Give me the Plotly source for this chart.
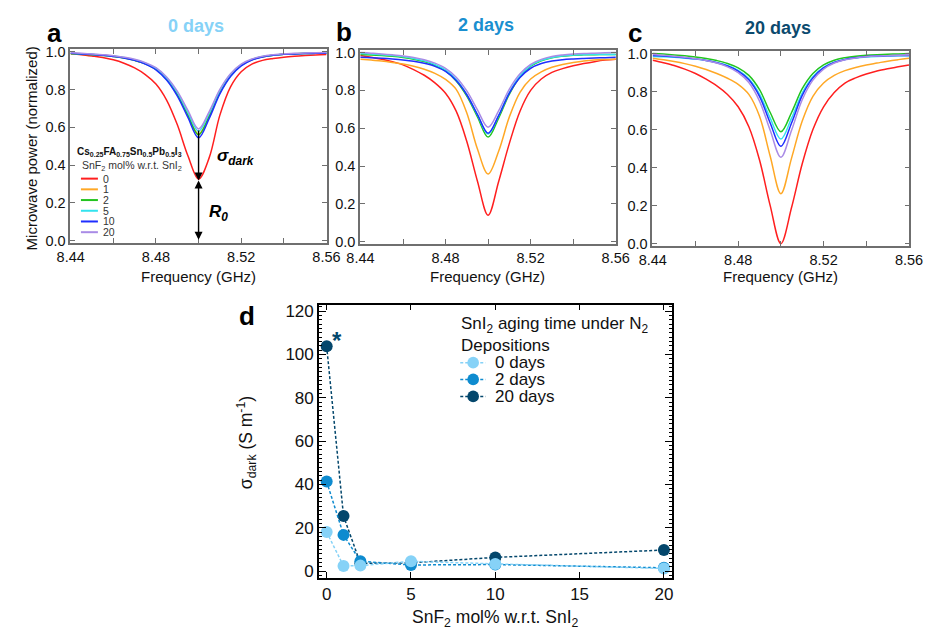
import plotly.graph_objects as go

# ---------------- data ----------------
FREQ = [8.44, 8.445, 8.45, 8.455, 8.46, 8.465, 8.47, 8.475, 8.48, 8.485, 8.49, 8.495, 8.50,
        8.505, 8.51, 8.515, 8.52, 8.525, 8.53, 8.535, 8.54, 8.545, 8.55, 8.555, 8.56]

SNF2_LEVELS = ["0", "1", "2", "5", "10", "20"]
LINE_COLORS = ["#ff1f1f", "#ffa826", "#22c41f", "#33e3ee", "#1f2eff", "#a98be6"]

# panel a: 0 days
A_0 = [0.99, 0.985, 0.978, 0.97, 0.958, 0.94, 0.915, 0.88, 0.83, 0.745, 0.615, 0.45, 0.327,
       0.44, 0.665, 0.815, 0.895, 0.935, 0.955, 0.965, 0.972, 0.977, 0.981, 0.984, 0.986]
A_1 = [0.993, 0.99, 0.986, 0.982, 0.977, 0.969, 0.956, 0.938, 0.909, 0.857, 0.777, 0.668, 0.565,
       0.663, 0.788, 0.876, 0.93, 0.959, 0.974, 0.982, 0.988, 0.99, 0.992, 0.993, 0.994]
A_2 = [0.99, 0.988, 0.985, 0.981, 0.976, 0.968, 0.955, 0.937, 0.908, 0.855, 0.775, 0.665, 0.56,
       0.66, 0.785, 0.874, 0.929, 0.958, 0.974, 0.982, 0.987, 0.99, 0.991, 0.992, 0.993]
A_5 = [0.993, 0.99, 0.987, 0.983, 0.978, 0.97, 0.958, 0.94, 0.912, 0.862, 0.785, 0.68, 0.58,
       0.675, 0.795, 0.88, 0.932, 0.96, 0.975, 0.983, 0.988, 0.99, 0.992, 0.993, 0.994]
A_10 = [0.992, 0.989, 0.986, 0.982, 0.976, 0.968, 0.955, 0.935, 0.905, 0.851, 0.767, 0.653, 0.545,
        0.648, 0.778, 0.87, 0.926, 0.957, 0.973, 0.982, 0.987, 0.989, 0.991, 0.992, 0.993]
A_20 = [0.995, 0.992, 0.989, 0.985, 0.98, 0.972, 0.961, 0.943, 0.916, 0.867, 0.792, 0.69, 0.592,
        0.684, 0.801, 0.884, 0.935, 0.962, 0.977, 0.985, 0.99, 0.992, 0.994, 0.995, 0.996]

# panel b: 2 days
B_0 = [0.985, 0.975, 0.965, 0.952, 0.935, 0.91, 0.88, 0.84, 0.785, 0.69, 0.53, 0.32, 0.14,
       0.32, 0.52, 0.69, 0.8, 0.86, 0.895, 0.915, 0.93, 0.942, 0.952, 0.96, 0.965]
B_1 = [0.965, 0.96, 0.955, 0.948, 0.94, 0.928, 0.912, 0.89, 0.858, 0.805, 0.68, 0.49, 0.358,
       0.48, 0.66, 0.79, 0.86, 0.898, 0.922, 0.937, 0.947, 0.955, 0.96, 0.963, 0.965]
B_2 = [0.99, 0.987, 0.984, 0.98, 0.974, 0.965, 0.952, 0.933, 0.903, 0.85, 0.77, 0.66, 0.553,
       0.655, 0.78, 0.872, 0.928, 0.957, 0.973, 0.981, 0.986, 0.988, 0.989, 0.99, 0.99]
B_5 = [0.995, 0.992, 0.988, 0.984, 0.978, 0.969, 0.956, 0.937, 0.908, 0.857, 0.778, 0.671, 0.57,
       0.667, 0.789, 0.877, 0.931, 0.959, 0.974, 0.982, 0.987, 0.989, 0.99, 0.99, 0.99]
B_10 = [0.975, 0.973, 0.97, 0.966, 0.961, 0.954, 0.943, 0.927, 0.9, 0.852, 0.777, 0.672, 0.574,
        0.668, 0.786, 0.868, 0.917, 0.942, 0.955, 0.962, 0.966, 0.969, 0.971, 0.973, 0.975]
B_20 = [1.0, 0.997, 0.993, 0.988, 0.982, 0.974, 0.962, 0.944, 0.917, 0.87, 0.797, 0.697, 0.605,
        0.693, 0.807, 0.888, 0.938, 0.964, 0.979, 0.987, 0.992, 0.995, 0.997, 0.999, 1.0]

# panel c: 20 days
C_0 = [0.965, 0.952, 0.937, 0.918, 0.895, 0.865, 0.83, 0.785, 0.72, 0.615, 0.44, 0.2, 0.0,
       0.19, 0.42, 0.6, 0.72, 0.795, 0.845, 0.872, 0.892, 0.908, 0.92, 0.93, 0.94]
C_1 = [0.975, 0.967, 0.958, 0.947, 0.933, 0.916, 0.895, 0.87, 0.838, 0.785, 0.67, 0.46, 0.263,
       0.45, 0.645, 0.775, 0.845, 0.885, 0.91, 0.927, 0.94, 0.95, 0.96, 0.968, 0.975]
C_2 = [1.0, 0.997, 0.993, 0.988, 0.982, 0.974, 0.963, 0.948, 0.925, 0.885, 0.81, 0.69, 0.589,
       0.69, 0.815, 0.895, 0.94, 0.965, 0.978, 0.986, 0.991, 0.994, 0.996, 0.998, 1.0]
C_5 = [0.985, 0.983, 0.98, 0.976, 0.971, 0.964, 0.953, 0.937, 0.912, 0.868, 0.787, 0.66, 0.55,
       0.66, 0.792, 0.878, 0.927, 0.954, 0.969, 0.977, 0.982, 0.985, 0.987, 0.988, 0.988]
C_10 = [0.99, 0.987, 0.983, 0.978, 0.972, 0.964, 0.952, 0.935, 0.908, 0.862, 0.775, 0.635, 0.512,
        0.635, 0.78, 0.872, 0.925, 0.953, 0.969, 0.978, 0.984, 0.987, 0.989, 0.99, 0.99]
C_20 = [0.995, 0.991, 0.986, 0.98, 0.973, 0.963, 0.95, 0.93, 0.9, 0.848, 0.75, 0.596, 0.455,
        0.596, 0.757, 0.86, 0.918, 0.95, 0.967, 0.977, 0.983, 0.987, 0.989, 0.991, 0.992]

SPECTRA_0D = [A_0, A_1, A_2, A_5, A_10, A_20]
SPECTRA_2D = [B_0, B_1, B_2, B_5, B_10, B_20]
SPECTRA_20D = [C_0, C_1, C_2, C_5, C_10, C_20]

# panel d
SNF2_MOL = [0, 1, 2, 5, 10, 20]
SIGMA_0D = [18.0, 2.3, 2.5, 4.5, 3.3, 1.2]
SIGMA_2D = [41.3, 16.7, 4.5, 2.8, 3.0, 1.5]
SIGMA_20D = [103.8, 25.4, 3.5, 3.8, 6.3, 9.7]
DAY_LABELS = ["0 days", "2 days", "20 days"]
DAY_COLORS = ["#86d2f7", "#0e8bcf", "#04476c"]
TITLE_COLORS = ["#86d2f7", "#1a8fd0", "#0b4a6e"]

# ---------------- helpers ----------------
W, H = 937, 634
FONT = "Liberation Sans, Arial, Helvetica, sans-serif"


def px(x):
    return x / W


def py(y):
    return 1 - y / H


fig = go.Figure()

# spectra
for k, spectra in enumerate([SPECTRA_0D, SPECTRA_2D, SPECTRA_20D]):
    xa = "x" if k == 0 else f"x{k + 1}"
    ya = "y" if k == 0 else f"y{k + 1}"
    for lvl, col, ys in zip(SNF2_LEVELS, LINE_COLORS, spectra):
        fig.add_trace(go.Scatter(
            x=FREQ, y=ys, xaxis=xa, yaxis=ya, mode="lines", name=lvl,
            line=dict(color=col, width=1.5, shape="spline", smoothing=1.0),
            showlegend=False, hoverinfo="skip"))

# conductivity
for lab, col, vals in reversed(list(zip(DAY_LABELS, DAY_COLORS, [SIGMA_0D, SIGMA_2D, SIGMA_20D]))):
    fig.add_trace(go.Scatter(
        x=SNF2_MOL, y=vals, xaxis="x4", yaxis="y4", mode="lines+markers", name=lab,
        line=dict(color=col, width=1.5, dash="3px,2px"),
        marker=dict(color=col, size=12, line=dict(width=0)),
        showlegend=False))

GRAY = "#6f6f6f"
spec_x = dict(range=[8.4398, 8.5602], showline=True, linecolor=GRAY, linewidth=1.5,
              mirror="allticks", ticks="inside", tickcolor=GRAY, tickwidth=1.2, ticklen=5,
              tickvals=[8.44, 8.48, 8.52, 8.56], ticktext=["8.44", "8.48", "8.52", "8.56"],
              minor=dict(tickvals=[8.46, 8.50, 8.54], ticks="inside", ticklen=5,
                         tickcolor=GRAY, tickwidth=1.2),
              showgrid=False, zeroline=False, tickfont=dict(size=14.5, color="#111"))
spec_y = dict(range=[-0.011, 1.014], showline=True, linecolor=GRAY, linewidth=1.5,
              mirror="allticks", ticks="inside", tickcolor=GRAY, tickwidth=1.2, ticklen=5,
              tickvals=[0, 0.2, 0.4, 0.6, 0.8, 1.0],
              ticktext=["0.0", "0.2", "0.4", "0.6", "0.8", "1.0"],
              showgrid=False, zeroline=False, tickfont=dict(size=14.5, color="#111"))

layout = dict(
    width=W, height=H, margin=dict(l=0, r=0, t=0, b=0),
    paper_bgcolor="white", plot_bgcolor="white",
    font=dict(family=FONT, color="#111"),
    showlegend=False,
    xaxis=dict(spec_x, domain=[px(58), px(322.5)], anchor="y"),
    yaxis=dict(spec_y, domain=[py(242), py(45)], anchor="x"),
    xaxis2=dict(spec_x, domain=[px(356.7), px(620.7)], anchor="y2"),
    yaxis2=dict(spec_y, domain=[py(243), py(45.7)], anchor="x2"),
    xaxis3=dict(spec_x, domain=[px(658), px(923)], anchor="y3"),
    yaxis3=dict(spec_y, domain=[py(245), py(46.7)], anchor="x3"),
    xaxis4=dict(range=[-0.46, 20.48], domain=[px(314.3), px(678.3)], anchor="y4",
                showline=True, linecolor="black", linewidth=1.5, mirror="allticks",
                ticks="inside", ticklen=6, tickwidth=1.2, tickcolor="black",
                tick0=0, dtick=5, showgrid=False, zeroline=False,
                tickfont=dict(size=17, color="#111")),
    yaxis4=dict(range=[-3.3, 123], domain=[py(583.3), py(305)], anchor="x4",
                showline=True, linecolor="black", linewidth=1.5, mirror="allticks",
                ticks="inside", ticklen=7, tickwidth=1.2, tickcolor="black",
                tick0=0, dtick=20, showgrid=False, zeroline=False,
                minor=dict(dtick=2, ticks="inside", ticklen=3.5, tickwidth=1,
                           tickcolor="black"),
                tickfont=dict(size=17, color="#111")),
)
fig.update_layout(**layout)

ann = []
shapes = []


def text(x, y, s, size, color="#111", xanchor="center", yanchor="middle", angle=0,
         xref="paper", yref="paper"):
    ann.append(dict(x=x, y=y, xref=xref, yref=yref, text=s, showarrow=False,
                    xanchor=xanchor, yanchor=yanchor, textangle=angle,
                    font=dict(size=size, color=color, family=FONT)))


# panel letters
for lab, (x, y) in zip("abcd", [(41.5, 28), (340, 27), (640.5, 28), (240, 316)]):
    text(px(x), py(y), f"<b>{lab}</b>", 26, color="black")

# panel titles
for lab, col, (x, y) in zip(DAY_LABELS, TITLE_COLORS, [(188, 21.5), (486.7, 20.5), (788, 23.5)]):
    text(px(x), py(y), f"<b>{lab}</b>", 18, color=col)

# axis titles
for x in [190.5, 488.3, 790]:
    text(px(x), py(276), "Frequency (GHz)", 15)
text(px(17.5), py(146), "Microwave power (normalized)", 15, angle=-90)
text(px(496.3), py(624), "SnF<sub>2</sub> mol% w.r.t. SnI<sub>2</sub>", 17.5)
text(px(239), py(445), "σ<sub>dark</sub> (S m<sup>-1</sup>)", 17.5, angle=-90)

# panel a legend
text(px(62.7), py(150), "<b>Cs<sub>0.25</sub>FA<sub>0.75</sub>Sn<sub>0.5</sub>Pb<sub>0.5</sub>I<sub>3</sub></b>",
     10, color="#111", xanchor="left")
text(px(68.3), py(164), "SnF<sub>2</sub> mol% w.r.t. SnI<sub>2</sub>", 10.5, color="#333", xanchor="left")
for i, (lvl, col) in enumerate(zip(SNF2_LEVELS, LINE_COLORS)):
    yy = 176.7 + i * 10.9
    shapes.append(dict(type="line", xref="paper", yref="paper", x0=px(69), x1=px(86.5),
                       y0=py(yy), y1=py(yy), line=dict(color=col, width=2)))
    text(px(90), py(yy), lvl, 10.5, color="#333", xanchor="left")

# resonance arrows (panel a)
f0 = FREQ[A_0.index(min(A_0))]
red_min = min(A_0)
cluster_top = max(min(s) for s in SPECTRA_0D[1:])
ann.append(dict(x=f0, y=red_min - 0.008, ax=f0, ay=cluster_top, xref="x", yref="y",
                axref="x", ayref="y", text="", showarrow=True, arrowhead=2,
                arrowsize=1.15, arrowwidth=1.4, arrowcolor="black"))
ann.append(dict(x=f0, y=red_min - 0.008, ax=f0, ay=-0.003, xref="x", yref="y",
                axref="x", ayref="y", text="", showarrow=True, arrowhead=2,
                startarrowhead=2, arrowside="end+start", arrowsize=1.15,
                startarrowsize=1.15, arrowwidth=1.4, arrowcolor="black"))
text(8.5077, 0.443, "<b><i>σ<sub>dark</sub></i></b>", 17, color="black", xanchor="left",
     xref="x", yref="y")
text(8.5041, 0.146, "<b><i>R<sub>0</sub></i></b>", 17, color="black", xanchor="left",
     xref="x", yref="y")

# panel d legend
text(px(458.3), py(326), "SnI<sub>2</sub> aging time under N<sub>2</sub>", 17, xanchor="left")
text(px(458.3), py(346.7), "Depositions", 17, xanchor="left")
for lab, col, yy in zip(DAY_LABELS, DAY_COLORS, [364, 381, 398.3]):
    shapes.append(dict(type="line", xref="paper", yref="paper", x0=px(460), x1=px(486),
                       y0=py(yy), y1=py(yy), line=dict(color=col, width=1.5, dash="3px,2px")))
    shapes.append(dict(type="circle", xref="paper", yref="paper", x0=px(467.3), x1=px(479.3),
                       y0=py(yy + 6), y1=py(yy - 6), fillcolor=col, line=dict(width=0)))
    text(px(493.3), py(yy), lab, 17, xanchor="left")

# asterisk marking the outlier
text(SNF2_MOL[0] + 0.6, 106.5, "<b>*</b>", 24, color=DAY_COLORS[2], xref="x4", yref="y4")

fig.update_layout(annotations=ann, shapes=shapes)
fig.write_html("out.html")
